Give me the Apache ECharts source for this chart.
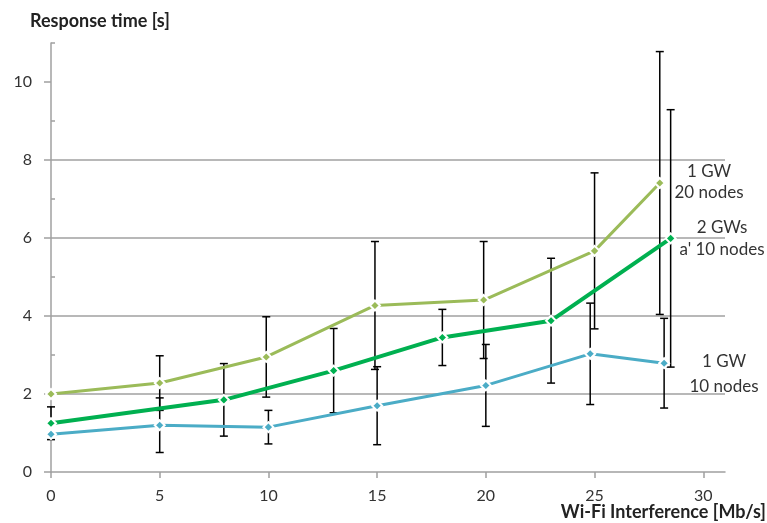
<!DOCTYPE html>
<html>
<head>
<meta charset="utf-8">
<script src="https://cdn.jsdelivr.net/npm/echarts@6/dist/echarts.min.js"></script>
<style>
  html, body { margin: 0; padding: 0; background: #fff; }
  #chart { width: 767px; height: 523px; }
</style>
</head>
<body>
<div id="chart"></div>
<script>
// x ticks / y ticks
var xTicks = [0, 5, 10, 15, 20, 25, 30];
var yTicks = [0, 2, 4, 6, 8, 10];
var yMinorTicks = [1, 3, 5, 7, 9, 11];

// 1 GW, 20 nodes
var gw1n20X = [0, 5, 9.9, 14.9, 19.9, 25, 28];
var gw1n20Y = [2.0, 2.28, 2.95, 4.27, 4.41, 5.67, 7.41];
var gw1n20Err = [0, 0.7, 1.03, 1.64, 1.5, 2.0, 3.37];

// 2 GWs, 10 nodes each
var gw2n10X = [0, 7.95, 13, 18, 23, 28.5];
var gw2n10Y = [1.25, 1.85, 2.6, 3.45, 3.88, 5.99];
var gw2n10Err = [0.42, 0.93, 1.08, 0.72, 1.6, 3.3];

// 1 GW, 10 nodes
var gw1n10X = [0, 5, 10, 15, 20, 24.8, 28.2];
var gw1n10Y = [0.97, 1.2, 1.15, 1.7, 2.22, 3.03, 2.79];
var gw1n10Err = [0, 0.7, 0.43, 1.0, 1.05, 1.3, 1.15];

var FONT = 'Lato, "Open Sans", sans-serif';

function pairs(xs, ys) {
  return xs.map(function (x, i) { return [x, ys[i]]; });
}

function lineSeries(name, xs, ys, color, width) {
  return {
    name: name,
    type: 'line',
    data: pairs(xs, ys),
    z: 3,
    symbol: 'diamond',
    symbolSize: 10,
    showAllSymbol: true,
    lineStyle: { color: color, width: width },
    itemStyle: { color: color, borderColor: '#fff', borderWidth: 2 }
  };
}

function errorSeries(xs, ys, es) {
  var data = [];
  xs.forEach(function (x, i) {
    if (es[i] > 0) data.push([x, ys[i] - es[i], ys[i] + es[i]]);
  });
  return {
    type: 'custom',
    data: data,
    z: 1,
    silent: true,
    encode: { x: 0, y: [1, 2] },
    renderItem: function (params, api) {
      var lo = api.coord([api.value(0), api.value(1)]);
      var hi = api.coord([api.value(0), api.value(2)]);
      var w = 4;
      var st = { stroke: '#000', lineWidth: 1.5 };
      return {
        type: 'group',
        children: [
          { type: 'line', shape: { x1: lo[0], y1: lo[1], x2: hi[0], y2: hi[1] }, style: st },
          { type: 'line', shape: { x1: lo[0] - w, y1: lo[1], x2: lo[0] + w, y2: lo[1] }, style: st },
          { type: 'line', shape: { x1: hi[0] - w, y1: hi[1], x2: hi[0] + w, y2: hi[1] }, style: st }
        ]
      };
    }
  };
}

var chart = echarts.init(document.getElementById('chart'));

var option = {
  animation: false,
  backgroundColor: '#fff',
  grid: { left: 51, right: 42, top: 43, bottom: 51 },
  xAxis: {
    type: 'value',
    min: 0,
    max: 31,
    interval: 5,
    axisLine: { lineStyle: { color: '#a0a0a0', width: 1.5 } },
    axisTick: { length: 6, lineStyle: { color: '#a0a0a0', width: 1.5 }, customValues: xTicks },
    axisLabel: { customValues: xTicks, margin: 16, color: '#333', fontSize: 16, fontFamily: FONT },
    splitLine: { show: false }
  },
  yAxis: [{
    type: 'value',
    min: 0,
    max: 11,
    interval: 2,
    axisLine: { show: true, lineStyle: { color: '#a0a0a0', width: 1.5 } },
    axisTick: { show: true, length: 7, lineStyle: { color: '#a0a0a0', width: 1.5 }, customValues: yTicks },
    axisLabel: { customValues: yTicks, margin: 19, color: '#333', fontSize: 16, fontFamily: FONT },
    splitLine: { show: true, showMinLine: false, showMaxLine: false, lineStyle: { color: '#a0a0a0', width: 1.5 } }
  }, {
    type: 'value',
    position: 'left',
    min: 0,
    max: 11,
    interval: 1,
    axisLine: { show: false },
    axisTick: { show: true, inside: true, length: 4, lineStyle: { color: '#a0a0a0', width: 1.5 }, customValues: yMinorTicks },
    axisLabel: { show: false },
    splitLine: { show: false }
  }],
  graphic: [
    { type: 'text', left: 30, top: 12, style: { text: 'Response time [s]', font: 'bold 18px ' + FONT, fill: '#222' } },
    { type: 'text', right: 1, top: 503, style: { text: 'Wi-Fi Interference [Mb/s]', font: 'bold 18px ' + FONT, fill: '#222' } },
    { type: 'text', x: 709, y: 172, style: { text: '1 GW', font: '17px ' + FONT, fill: '#333', align: 'center', verticalAlign: 'middle' } },
    { type: 'text', x: 709, y: 193, style: { text: '20 nodes', font: '17px ' + FONT, fill: '#333', align: 'center', verticalAlign: 'middle' } },
    { type: 'text', x: 722, y: 228, style: { text: '2 GWs', font: '17px ' + FONT, fill: '#333', align: 'center', verticalAlign: 'middle' } },
    { type: 'text', x: 722, y: 250, style: { text: "a' 10 nodes", font: '17px ' + FONT, fill: '#333', align: 'center', verticalAlign: 'middle' } },
    { type: 'text', x: 724, y: 362, style: { text: '1 GW', font: '17px ' + FONT, fill: '#333', align: 'center', verticalAlign: 'middle' } },
    { type: 'text', x: 724, y: 387, style: { text: '10 nodes', font: '17px ' + FONT, fill: '#333', align: 'center', verticalAlign: 'middle' } }
  ],
  series: [
    errorSeries(gw1n20X, gw1n20Y, gw1n20Err),
    errorSeries(gw2n10X, gw2n10Y, gw2n10Err),
    errorSeries(gw1n10X, gw1n10Y, gw1n10Err),
    lineSeries('1 GW 20 nodes', gw1n20X, gw1n20Y, '#9bbb59', 3),
    lineSeries("2 GWs a' 10 nodes", gw2n10X, gw2n10Y, '#00b050', 4),
    lineSeries('1 GW 10 nodes', gw1n10X, gw1n10Y, '#4bacc6', 3)
  ]
};

chart.setOption(option);
</script>
</body>
</html>
